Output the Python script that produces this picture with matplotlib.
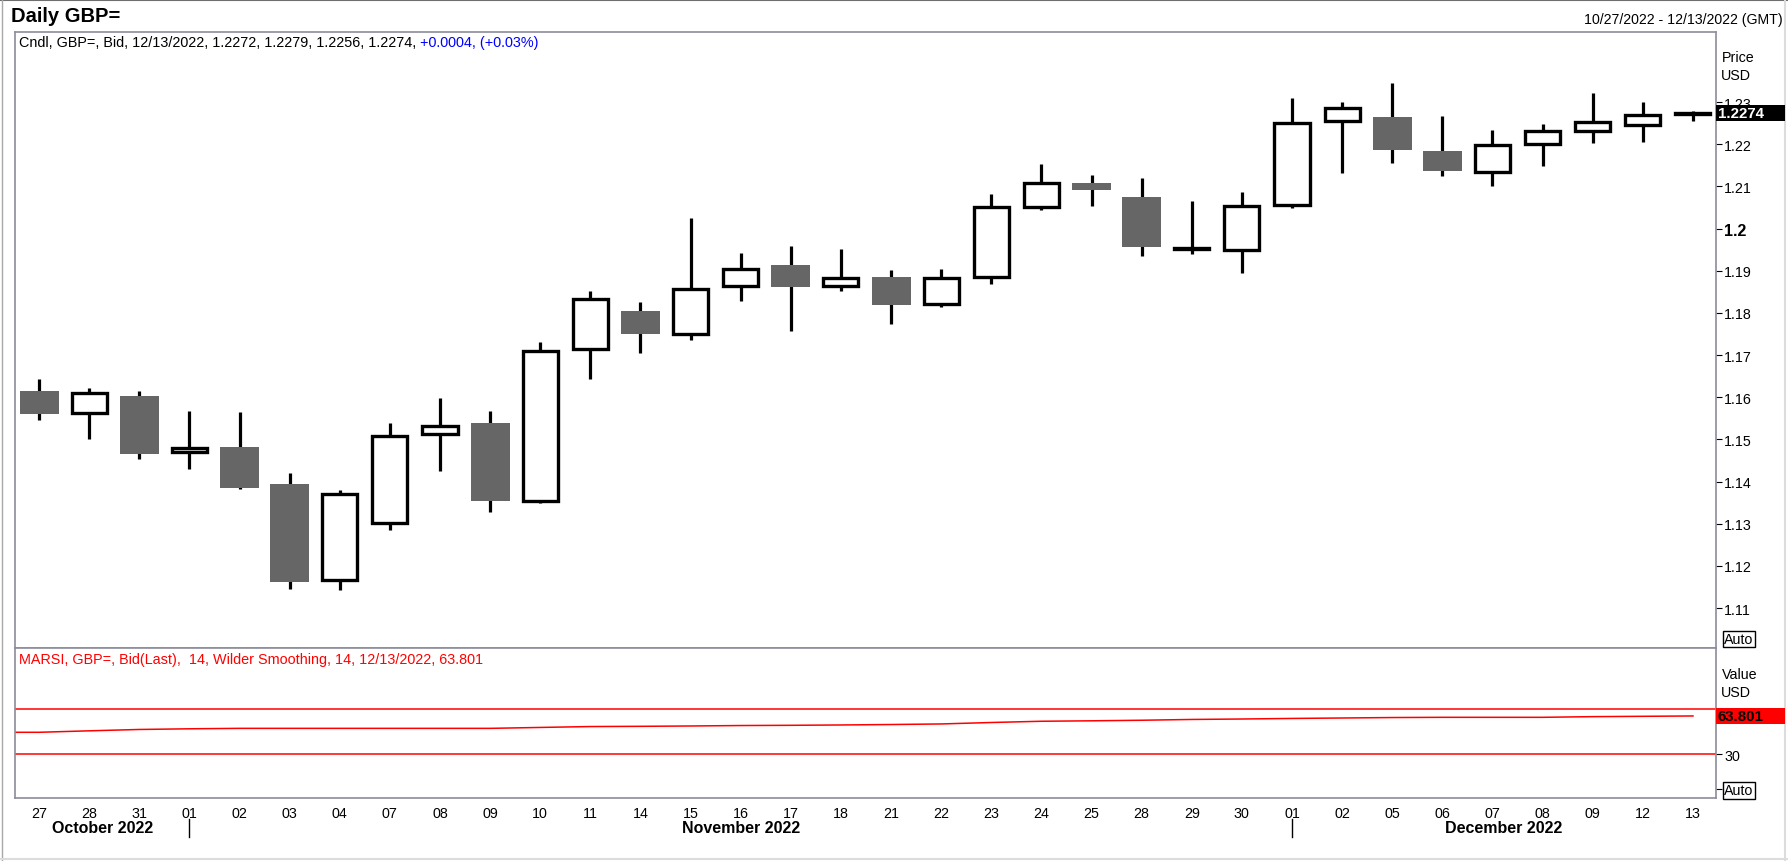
import matplotlib
matplotlib.use('Agg')
import matplotlib.pyplot as plt
import matplotlib.transforms as mtransforms
from matplotlib.patches import Rectangle
from matplotlib.lines import Line2D
import numpy as np

plt.rcParams['font.family'] = ['Liberation Sans', 'DejaVu Sans']

# daily GBP= bid candles, 27 Oct - 13 Dec 2022
dates = ['27', '28', '31', '01', '02', '03', '04', '07', '08', '09', '10',
         '11', '14', '15', '16', '17', '18', '21', '22', '23', '24', '25',
         '28', '29', '30', '01', '02', '05', '06', '07', '08', '09', '12', '13']
months = ['October 2022'] * 3 + ['November 2022'] * 22 + ['December 2022'] * 9

opens = [1.1616, 1.1563, 1.1604, 1.1470, 1.1483, 1.1395, 1.1167, 1.1301, 1.1512,
         1.1540, 1.1355, 1.1715, 1.1804, 1.1750, 1.1864, 1.1913, 1.1864, 1.1884,
         1.1821, 1.1885, 1.2051, 1.2107, 1.2074, 1.1952, 1.1950, 1.2057, 1.2254,
         1.2264, 1.2183, 1.2133, 1.2201, 1.2232, 1.2246, 1.2272]
highs = [1.1644, 1.1623, 1.1614, 1.1567, 1.1564, 1.1421, 1.1381, 1.1540, 1.1599,
         1.1567, 1.1730, 1.1853, 1.1827, 1.2024, 1.1941, 1.1958, 1.1951, 1.1901,
         1.1903, 1.2081, 1.2153, 1.2127, 1.2119, 1.2065, 1.2086, 1.2309, 1.2300,
         1.2345, 1.2268, 1.2233, 1.2248, 1.2321, 1.2300, 1.2279]
lows = [1.1545, 1.1500, 1.1454, 1.1431, 1.1383, 1.1146, 1.1143, 1.1286, 1.1424,
        1.1329, 1.1349, 1.1643, 1.1704, 1.1735, 1.1828, 1.1758, 1.1852, 1.1773,
        1.1814, 1.1868, 1.2044, 1.2054, 1.1935, 1.1940, 1.1894, 1.2049, 1.2131,
        1.2156, 1.2124, 1.2101, 1.2149, 1.2203, 1.2206, 1.2256]
closes = [1.1561, 1.1609, 1.1466, 1.1480, 1.1386, 1.1163, 1.1371, 1.1509, 1.1532,
          1.1353, 1.1710, 1.1832, 1.1750, 1.1856, 1.1905, 1.1861, 1.1882, 1.1818,
          1.1882, 1.2051, 1.2107, 1.2092, 1.1956, 1.1953, 1.2053, 1.2250, 1.2285,
          1.2186, 1.2137, 1.2197, 1.2232, 1.2253, 1.2269, 1.2274]

rsi = [49.3, 50.6, 51.8, 52.4, 52.8, 52.8, 52.8, 52.8, 52.8, 52.8, 53.6, 54.4,
       54.6, 54.9, 55.3, 55.5, 55.8, 56.2, 56.7, 58.0, 59.1, 59.5, 60.0, 60.7,
       61.1, 61.6, 62.0, 62.4, 62.6, 62.6, 62.6, 63.2, 63.5, 63.801]
rsi_levels = [70, 30]

price_ticks = [1.11, 1.12, 1.13, 1.14, 1.15, 1.16, 1.17, 1.18, 1.19, 1.2, 1.21, 1.22, 1.23]

W, H = 1788, 862
fig = plt.figure(figsize=(W / 100, H / 100), dpi=100)

left, right = 15, 1716
top, mid, bot = 33, 649, 799
ax = fig.add_axes([left / W, 1 - mid / H, (right - left) / W, (mid - top) / H])
ax2 = fig.add_axes([left / W, 1 - bot / H, (right - left) / W, (bot - mid) / H], sharex=ax)

frame = '#8c8c9c'
for a in (ax, ax2):
    for s in a.spines.values():
        s.set_color(frame)
        s.set_linewidth(1.2)
    a.yaxis.tick_right()
    a.tick_params(axis='y', direction='out', length=4, width=0.8, pad=2,
                  labelsize=10.3, colors='black')

x = np.arange(len(dates))
o = np.array(opens)
c = np.array(closes)
up = c >= o
dn = ~up

# candles
ax.vlines(x, lows, highs, color='black', linewidth=2.3, zorder=2)
ax.bar(x[dn], (o - c)[dn], bottom=c[dn], width=0.78, color='#666666',
       linewidth=0, zorder=3)
ax.bar(x[up], (c - o)[up], bottom=o[up], width=0.70, facecolor='white',
       edgecolor='black', linewidth=2.4, zorder=3)

xmin, xmax = -0.48, len(dates) - 1 + 0.46
ax.set_xlim(xmin, xmax)
ax.set_ylim(1.10055, 1.2466)
ax.set_yticks(price_ticks)
ax.set_yticklabels(['%g' % t for t in price_ticks])
for lab, t in zip(ax.get_yticklabels(), price_ticks):
    if abs(t - 1.2) < 1e-9:
        lab.set_fontweight('bold')
        lab.set_fontsize(11.5)
ax.tick_params(axis='x', bottom=False, labelbottom=False)

# RSI panel
ax2.plot(np.concatenate([[xmin], x]), [rsi[0]] + rsi, color='#ff0000', linewidth=1.1)
for lv in rsi_levels:
    ax2.axhline(lv, color='#ff0000', linewidth=1.1)
ax2.set_ylim(-9.1, 124.2)
ax2.set_yticks([30, -1])
ax2.set_yticklabels(['30', 'Auto'])
auto_lab = ax2.get_yticklabels()[1]
auto_lab.set_bbox(dict(boxstyle='square,pad=0.1', facecolor='white',
                       edgecolor='black', linewidth=1))
ax2.set_xticks(x)
ax2.set_xticklabels(dates)
ax2.tick_params(axis='x', length=0, pad=6, labelsize=10.3)

# current value boxes on the right axis
def value_box(a, val, text, fc, tc):
    ypx = a.transData.transform((0, val))[1]
    h = 16
    fig.patches.append(Rectangle((right / W, (ypx - h / 2) / H), (1785 - right) / W, h / H,
                                 transform=fig.transFigure, facecolor=fc,
                                 edgecolor='none', zorder=5))
    fig.text((right + 2) / W, ypx / H, text, color=tc, fontsize=10.8,
             fontweight='bold', va='center', ha='left', zorder=6)

value_box(ax, closes[-1], '%.4f' % closes[-1], 'black', 'white')
value_box(ax2, rsi[-1], '%.3f' % rsi[-1], '#ff0000', 'black')

# axis unit labels
fig.text(1722 / W, 1 - 58 / H, 'Price', fontsize=10.3, va='center')
fig.text(1721 / W, 1 - 76 / H, 'USD', fontsize=10.3, va='center')
fig.text(1722 / W, 1 - 675 / H, 'Value', fontsize=10.3, va='center')
fig.text(1721 / W, 1 - 693 / H, 'USD', fontsize=10.3, va='center')
fig.text(1724 / W, 1 - 640 / H, 'Auto', fontsize=10.3, va='center',
         bbox=dict(boxstyle='square,pad=0.1', facecolor='white',
                   edgecolor='black', linewidth=1))

# titles
fig.text(11 / W, 1 - 16 / H, 'Daily GBP=', fontsize=14.5, fontweight='bold', va='center')
fig.text(1783 / W, 1 - 20 / H, '10/27/2022 - 12/13/2022 (GMT)', fontsize=10.2,
         ha='right', va='center')

t1 = ax.text(4 / (right - left), 1 - 10 / (mid - top),
             'Cndl, GBP=, Bid, 12/13/2022, %.4f, %.4f, %.4f, %.4f, '
             % (opens[-1], highs[-1], lows[-1], closes[-1]),
             transform=ax.transAxes, fontsize=10.4, va='center', ha='left')
chg = closes[-1] - 1.2270
ax.annotate('%+.4f, (%+.2f%%)' % (chg, chg / 1.2270 * 100), xy=(1, 0.5),
            xycoords=t1, fontsize=10.4, va='center', ha='left', color='#0000ff')

ax2.text(4 / (right - left), 1 - 11 / (bot - mid),
         'MARSI, GBP=, Bid(Last),  14, Wilder Smoothing, 14, 12/13/2022, %.3f' % rsi[-1],
         transform=ax2.transAxes, fontsize=10.4, va='center', ha='left', color='#ff0000')

# month labels and separators
bt = mtransforms.blended_transform_factory(ax2.transData, fig.transFigure)
bounds = [xmin]
for i in range(1, len(months)):
    if months[i] != months[i - 1]:
        bounds.append(x[i])
        fig.add_artist(Line2D([x[i], x[i]], [1 - 820 / H, 1 - 838 / H], transform=bt,
                              color='black', linewidth=1))
bounds.append(xmax)
names = [months[0]] + [months[i] for i in range(1, len(months)) if months[i] != months[i - 1]]
for k, name in enumerate(names):
    fig.text((bounds[k] + bounds[k + 1]) / 2, 1 - 829 / H, name, transform=bt,
             fontsize=11.5, fontweight='bold', ha='center', va='center')

# outer frame
fig.add_artist(Line2D([0, 1], [1 - 1 / H, 1 - 1 / H], transform=fig.transFigure,
                      color='#6e6e6e', linewidth=1.5))
fig.add_artist(Line2D([2 / W, 2 / W], [0, 1], transform=fig.transFigure,
                      color='#a8a8a8', linewidth=1))
fig.add_artist(Line2D([0, 1], [2 / H, 2 / H], transform=fig.transFigure,
                      color='#dcdcdc', linewidth=1.5))
fig.add_artist(Line2D([1785 / W, 1785 / W], [0, 1], transform=fig.transFigure,
                      color='#dcdcdc', linewidth=1.5))

fig.savefig('out.png', dpi=100)
